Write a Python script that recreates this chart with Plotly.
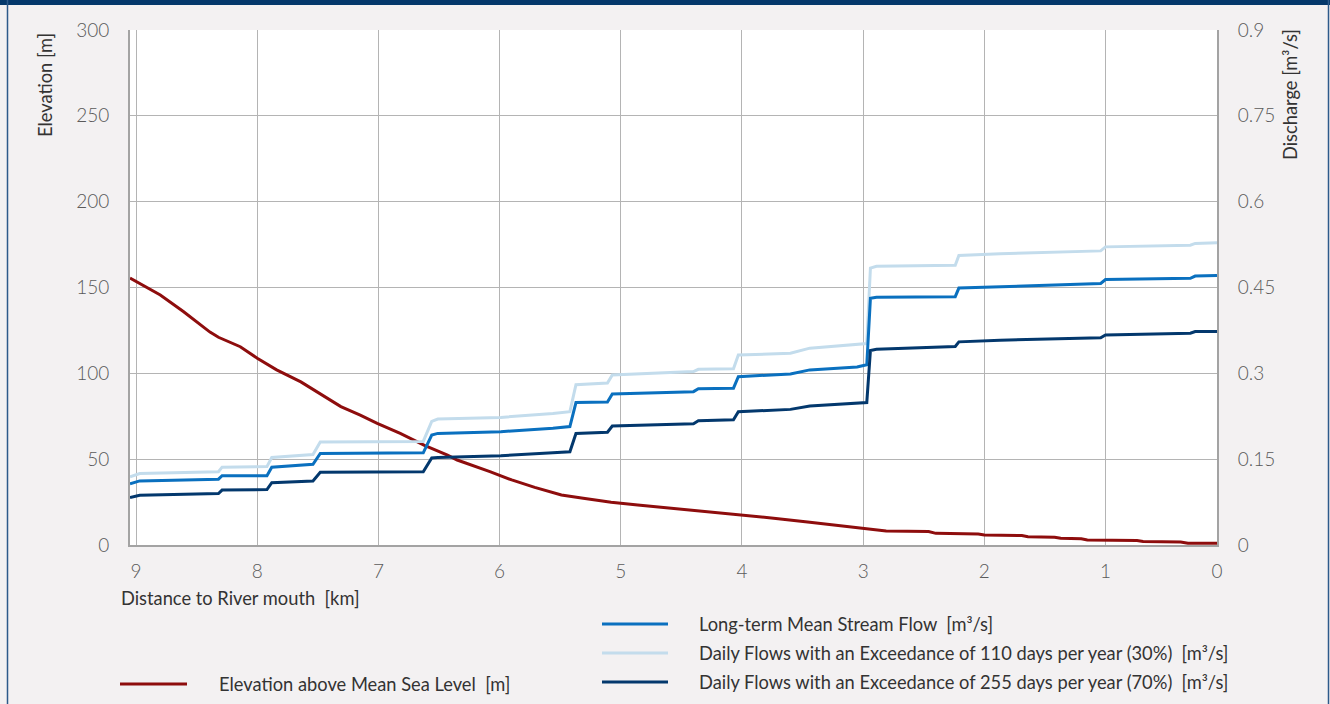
import plotly.graph_objects as go

# Longitudinal profile: distance to river mouth [km]
elev_km = [9.05, 8.80, 8.61, 8.39, 8.32, 8.14, 8.00, 7.84, 7.64, 7.48, 7.31, 7.15,
           7.01, 6.82, 6.62, 6.43, 6.35, 6.08, 5.90, 5.71, 5.49, 5.31, 5.08, 4.86,
           4.58, 4.27, 4.02, 3.72, 3.44, 3.18, 3.01, 2.81, 2.46, 2.40, 2.05, 2.00,
           1.69, 1.64, 1.42, 1.37, 1.20, 1.15, 0.74, 0.69, 0.38, 0.32, 0.08]
elev_m = [155.5, 145.6, 136.0, 124.0, 121.0, 115.5, 108.8, 102.0, 95.0, 88.0, 80.6, 75.7,
          70.9, 65.0, 58.0, 52.4, 49.5, 42.7, 37.9, 33.6, 29.1, 27.2, 24.9, 23.3,
          21.4, 19.0, 17.5, 15.5, 13.2, 11.1, 9.5, 8.2, 7.9, 6.8, 6.4, 5.8,
          5.5, 4.8, 4.5, 3.9, 3.6, 2.9, 2.6, 2.0, 1.8, 1.0, 1.0]

# Discharge series [m3/s]
flow_km = [9.05, 8.97, 8.32, 8.29, 7.92, 7.88, 7.54, 7.48, 6.63, 6.56, 6.51, 5.99,
           5.56, 5.42, 5.37, 5.11, 5.07, 4.40, 4.36, 4.07, 4.03, 3.60, 3.44, 3.05,
           2.97, 2.94, 2.89, 2.24, 2.21, 1.87, 1.04, 1.00, 0.30, 0.26, 0.08]
q_mean = [0.107, 0.112, 0.115, 0.121, 0.121, 0.136, 0.141, 0.160, 0.161, 0.192, 0.195, 0.198,
          0.204, 0.207, 0.249, 0.250, 0.264, 0.268, 0.273, 0.274, 0.294, 0.299, 0.306, 0.311,
          0.315, 0.431, 0.433, 0.434, 0.449, 0.451, 0.457, 0.464, 0.466, 0.470, 0.471]
q_30 = [0.119, 0.125, 0.128, 0.136, 0.137, 0.153, 0.158, 0.180, 0.181, 0.216, 0.220, 0.223,
        0.230, 0.233, 0.280, 0.283, 0.297, 0.303, 0.307, 0.308, 0.332, 0.335, 0.344, 0.350,
        0.352, 0.484, 0.487, 0.489, 0.506, 0.509, 0.514, 0.521, 0.524, 0.527, 0.528]
q_70 = [0.083, 0.087, 0.090, 0.096, 0.097, 0.109, 0.112, 0.127, 0.128, 0.152, 0.153, 0.156,
        0.161, 0.163, 0.195, 0.197, 0.208, 0.212, 0.217, 0.219, 0.233, 0.237, 0.243, 0.248,
        0.249, 0.340, 0.342, 0.347, 0.355, 0.358, 0.362, 0.367, 0.370, 0.373, 0.373]

x_ticks = [9, 8, 7, 6, 5, 4, 3, 2, 1, 0.08]
x_tick_text = ["9", "8", "7", "6", "5", "4", "3", "2", "1", "0"]
y_ticks = [0, 50, 100, 150, 200, 250, 300]
q_ticks = [0, 0.15, 0.3, 0.45, 0.6, 0.75, 0.9]
q_tick_text = ["0", "0.15", "0.3", "0.45", "0.6", "0.75", "0.9"]

names = {
    "mean": "Long-term Mean Stream Flow  [m³/s]",
    "q30": "Daily Flows with an Exceedance of 110 days per year (30%)  [m³/s]",
    "q70": "Daily Flows with an Exceedance of 255 days per year (70%)  [m³/s]",
    "elev": "Elevation above Mean Sea Level  [m]",
}
colors = {"mean": "#0a70bf", "q30": "#c3dcec", "q70": "#03386d", "elev": "#8e0d0d"}

W, H = 1330, 704
ML, MR, MT, MB = 130, 113, 30, 159
PW, PH = W - ML - MR, H - MT - MB


def px(x):
    return (x - ML) / PW


def py(y):
    return (H - MB - y) / PH


FONT = "Lato, 'Open Sans', sans-serif"
TEXT = "#333333"

fig = go.Figure()
fig.add_trace(go.Scatter(x=flow_km, y=q_30, yaxis="y2", mode="lines",
                         line=dict(color=colors["q30"], width=3), name=names["q30"]))
fig.add_trace(go.Scatter(x=flow_km, y=q_mean, yaxis="y2", mode="lines",
                         line=dict(color=colors["mean"], width=3), name=names["mean"]))
fig.add_trace(go.Scatter(x=flow_km, y=q_70, yaxis="y2", mode="lines",
                         line=dict(color=colors["q70"], width=3), name=names["q70"]))
fig.add_trace(go.Scatter(x=elev_km, y=elev_m, mode="lines",
                         line=dict(color=colors["elev"], width=3), name=names["elev"]))

grid = "#b4b4b4"
axis_line = "#a3a3a3"
tick_font = dict(family=FONT, size=19, color="#5a5a5a", weight=300)

fig.update_layout(
    width=W, height=H, autosize=False,
    margin=dict(l=ML, r=MR, t=MT, b=MB),
    paper_bgcolor="#f3f1f2", plot_bgcolor="#ffffff",
    showlegend=False,
    font=dict(family=FONT, color=TEXT),
    xaxis=dict(range=[9.05, 0.08], tickvals=x_ticks, ticktext=x_tick_text,
               showgrid=True, gridcolor=grid, gridwidth=1,
               showline=True, linecolor=axis_line, linewidth=2, mirror=False,
               zeroline=False, ticks="", ticklabelstandoff=8, tickfont=tick_font),
    yaxis=dict(range=[0, 300], tickvals=y_ticks,
               showgrid=True, gridcolor=grid, gridwidth=1,
               showline=True, linecolor=axis_line, linewidth=2,
               zeroline=False, ticks="", ticklabelstandoff=15, tickfont=tick_font),
    yaxis2=dict(range=[0, 0.9], tickvals=q_ticks, ticktext=q_tick_text,
                overlaying="y", side="right", showgrid=False,
                showline=True, linecolor=axis_line, linewidth=2,
                zeroline=False, ticks="", ticklabelstandoff=15, tickfont=tick_font),
)

shapes = [
    # frame
    dict(type="rect", xref="paper", yref="paper", x0=px(0), x1=px(W), y0=py(0), y1=py(5),
         fillcolor="#04386b", line=dict(width=0), layer="above"),
    dict(type="line", xref="paper", yref="paper", x0=px(7.5), x1=px(7.5), y0=py(0), y1=py(H),
         line=dict(color="#2d5a8a", width=1.5)),
    dict(type="line", xref="paper", yref="paper", x0=px(1328.5), x1=px(1328.5), y0=py(0), y1=py(H),
         line=dict(color="#2d5a8a", width=1.5)),
]

label_font = dict(size=18.3, color=TEXT, family=FONT)
annotations = [
    dict(text="Elevation [m]", x=px(45), y=py(85), xref="paper", yref="paper",
         xanchor="center", yanchor="middle",
         textangle=-90, showarrow=False, font=label_font),
    dict(text="Discharge [m³/s]", x=px(1290), y=py(95), xref="paper", yref="paper",
         xanchor="center", yanchor="middle",
         textangle=-90, showarrow=False, font=label_font),
    dict(text="Distance to River mouth  [km]", x=px(119), y=py(598), xref="paper", yref="paper",
         xanchor="left", yanchor="middle", showarrow=False, font=label_font),
]

legend_rows = [("mean", 602, 668, 697, 624), ("q30", 602, 668, 697, 653),
               ("q70", 602, 668, 697, 682), ("elev", 120, 187, 217, 684)]
for key, lx0, lx1, tx, ly in legend_rows:
    shapes.append(dict(type="line", xref="paper", yref="paper",
                       x0=px(lx0), x1=px(lx1), y0=py(ly), y1=py(ly),
                       line=dict(color=colors[key], width=3)))
    annotations.append(dict(text=names[key], x=px(tx), y=py(ly), xref="paper", yref="paper",
                            xanchor="left", yanchor="middle", showarrow=False,
                            font=label_font))

fig.update_layout(shapes=shapes, annotations=annotations)
fig.write_html("out.html")
